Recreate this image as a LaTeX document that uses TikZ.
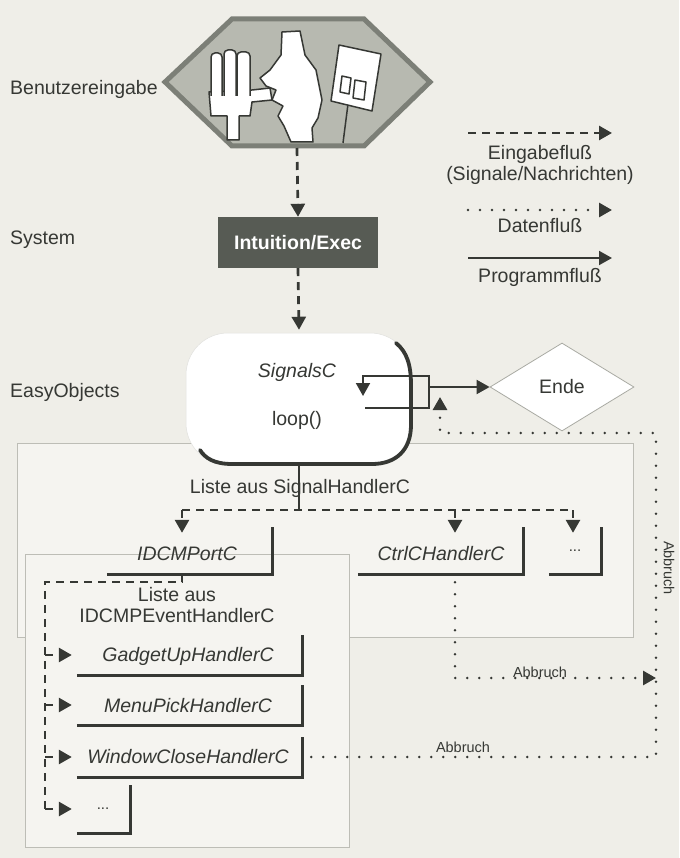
\documentclass[tikz,border=0pt]{standalone}
\usepackage{fontspec}
\setmainfont{Liberation Sans}
\usetikzlibrary{arrows.meta,shapes.geometric,calc}

\definecolor{paper}{HTML}{EFEEE8}
\definecolor{panelfill}{HTML}{F5F4F0}
\definecolor{panelline}{HTML}{BDBDB6}
\definecolor{ink}{HTML}{363834}
\definecolor{hexfill}{HTML}{B7B9B0}
\definecolor{hexedge}{HTML}{7C7F77}
\definecolor{sysfill}{HTML}{575B54}
\definecolor{thinline}{HTML}{A9AAA3}

\tikzset{
  txt/.style={text=ink, inner sep=0pt, font=\fontsize{19.5}{21}\selectfont},
  cls/.style={txt, font=\fontsize{19.5}{21}\selectfont\itshape},
  small/.style={txt, font=\fontsize{14.5}{16}\selectfont},
  dots/.style={txt, font=\fontsize{15}{16}\selectfont},
  tipA/.style={-{Triangle[length=13pt,width=14pt]}},
  inflow/.style={draw=ink, line width=2.7pt, dash pattern=on 8pt off 6pt},
  dataflow/.style={draw=ink, line width=2.8pt, line cap=round, dash pattern=on 0pt off 12pt},
  progflow/.style={draw=ink, line width=2pt},
  handlerbox/.style 2 args={minimum width=#1, minimum height=#2, inner sep=0pt},
  boxedge/.style={draw=ink, line width=2.8pt},
  panel/.style={draw=panelline, fill=panelfill, line width=1pt},
  icon/.style={draw=ink, line width=1.5pt, fill=white, line join=round},
}

\begin{document}
\begin{tikzpicture}[x=1pt,y=-1pt]
  % page
  \fill[paper] (0,0) rectangle (679,858);
  \useasboundingbox (0,0) rectangle (679,858);

  % panels for the handler lists
  \draw[panel] (17,443) rectangle (633,637);
  \draw[panel] (25,554) rectangle (349,847);

  % layer labels
  \node[txt, anchor=base west] (lUser) at (10,95) {Benutzereingabe};
  \node[txt, anchor=base west] (lSys) at (10,245) {System};
  \node[txt, anchor=base west] (lEO) at (10,397) {EasyObjects};

  % user input hexagon
  \draw[hexedge, fill=hexfill, line width=5pt, line join=miter]
    (165,82) -- (232,19) -- (364,19) -- (430,82) -- (364,146) -- (232,146) -- cycle;
  \coordinate (hexbot) at (297,148);

  % hand
  \draw[icon] (209,92) -- (252,90) -- (270,88) -- (272,100) -- (252,102) -- (250,116)
    -- (239,116) -- (239,140) -- (227,140) -- (227,116) -- (211,116) -- cycle;
  \filldraw[icon, rounded corners=4pt] (211,96) -- (211,53) -- (222,53) -- (222,96);
  \filldraw[icon, rounded corners=4pt] (224,96) -- (224,50) -- (236,50) -- (236,96);
  \filldraw[icon, rounded corners=4pt] (237,96) -- (237,52) -- (250,52) -- (250,96);
  % head in profile
  \draw[icon] (282,32) -- (300,31) -- (305,55) -- (316,70) -- (322,100) -- (318,118)
    -- (312,128) -- (313,142) -- (291,142) -- (284,126) -- (278,116) -- (283,106)
    -- (272,100) -- (276,90) -- (266,86) -- (260,78) -- (270,70) -- (281,55) -- cycle;
  % sign on a stick
  \draw[ink, line width=1.5pt] (348,104) -- (343,143);
  \draw[icon] (339,45) -- (381,54) -- (372,111) -- (331,101) -- cycle;
  \draw[icon] (342,76) -- (351,78) -- (349,94) -- (340,92) -- cycle;
  \draw[icon] (355,80) -- (366,82) -- (364,100) -- (353,98) -- cycle;

  % system box
  \node[fill=sysfill, minimum width=160pt, minimum height=51pt, inner sep=0pt,
        text=white, font=\fontsize{19.5}{21}\selectfont\bfseries] (intu) at (298,242.5) {Intuition/Exec};

  % SignalsC object
  \node[rounded corners=42pt, fill=white, draw=panelline!45, line width=0.5pt,
        minimum width=226pt, minimum height=132pt, inner sep=0pt] (sigbox) at (299,399) {};
  \draw[ink, line width=3.8pt, line cap=round]
    (396,343) .. controls (407,352) and (411,365) .. (411,385) -- (411,425)
    .. controls (411,450) and (396,464) .. (372,464) -- (232,464)
    .. controls (214,464) and (205,458) .. (200,450);
  \node[cls, anchor=base] (tSig) at (297,377) {SignalsC};
  \node[txt, anchor=base] (tLoop) at (297,425) {loop()};

  % end decision
  \node[diamond, aspect=1.64, minimum width=144pt, minimum height=88pt, inner sep=0pt,
        draw=thinline, line width=0.8pt, fill=white, txt] (ende) at (562,387) {Ende};

  % event loop
  \coordinate (loopIn) at (365,408);
  \coordinate (loopNE) at (429,376);
  \coordinate (loopBack) at (363,396);
  \draw[progflow, tipA] (loopIn) -- (loopIn -| loopNE) -- (loopNE) -- (loopNE -| loopBack) -- (loopBack);
  \draw[progflow, tipA] (loopNE |- ende.west) -- (ende.west);

  % input flow from the user down to the objects
  \draw[inflow, tipA] (hexbot) -- (intu.north);
  \draw[inflow, tipA] (intu.south) -- ($(sigbox.north)+(0,-3)$);

  % list of signal handlers
  \node[txt, anchor=base] (tList) at (300,493) {Liste aus SignalHandlerC};
  \coordinate (busL) at (182,510);
  \coordinate (busC) at (455,510);
  \coordinate (busR) at (573,510);
  \draw[ink, line width=1.1pt] (sigbox.south) -- (sigbox.south |- busL);
  \draw[inflow] (busL) -- (busR);

  \node[handlerbox={165pt}{47pt}] (bIdcmp) at (189.5,550.5) {};
  \node[handlerbox={165pt}{47pt}] (bCtrl) at (440.5,550.5) {};
  \node[handlerbox={52pt}{47pt}] (bMore) at (575,550.5) {};
  \node[cls, anchor=base] (tIdcmp) at (187,560) {IDCMPortC};
  \node[cls, anchor=base] (tCtrl) at (441,560) {CtrlCHandlerC};
  \node[dots, anchor=base] (tMore) at (575,551) {...};

  \draw[inflow, tipA] (busL) -- ($(busL |- bIdcmp.north)+(0,6)$);
  \draw[inflow, tipA] (busC) -- ($(busC |- bCtrl.north)+(0,6)$);
  \draw[inflow, tipA] (busR) -- ($(busR |- bMore.north)+(0,6)$);

  % list of IDCMP event handlers
  \node[txt, align=center] (tList2) at (177,605) {Liste aus\\IDCMPEventHandlerC};
  \node[handlerbox={225pt}{40pt}] (bGadget) at (189.5,655) {};
  \node[handlerbox={225pt}{40pt}] (bMenu) at (189.5,705) {};
  \node[handlerbox={225pt}{40pt}] (bWin) at (189.5,757) {};
  \node[handlerbox={53pt}{48pt}] (bMoreB) at (103.5,809) {};
  \node[cls, anchor=base] (tGadget) at (188,661) {GadgetUpHandlerC};
  \node[cls, anchor=base] (tMenu) at (188,712) {MenuPickHandlerC};
  \node[cls, anchor=base] (tWin) at (188,763) {WindowCloseHandlerC};
  \node[dots, anchor=base] (tMoreB) at (103,809) {...};

  \foreach \b in {bIdcmp,bCtrl,bMore,bGadget,bMenu,bWin,bMoreB}
    \draw[boxedge] (\b.south west) -- (\b.south east) -- (\b.north east);

  \coordinate (spineTop) at (45,582);
  \draw[inflow] (bIdcmp.south -| busL) -- (busL |- spineTop) -- (spineTop) -- (spineTop |- bMoreB.west);
  \foreach \b in {bGadget,bMenu,bWin,bMoreB}
    \draw[inflow, tipA] (spineTop |- \b.west) -- ([xshift=-5pt]\b.west);

  % abort paths back into the loop
  \coordinate (railTop) at (656,433);
  \coordinate (railMid) at (656,678);
  \coordinate (dataIn) at (440,397);
  \draw[dataflow, tipA] ([xshift=9pt]bWin.east) -- (bWin.east -| railTop) -- (railTop)
    -- (railTop -| dataIn) -- (dataIn);
  \draw[dataflow, tipA] ([yshift=-8pt]bCtrl.south -| busC) -- (busC |- railMid) -- (railMid);
  \node[small, anchor=base] (tAb1) at (540,677) {Abbruch};
  \node[small, anchor=base] (tAb2) at (463,752) {Abbruch};
  \node[small, rotate=-90] (tAb3) at (669,568) {Abbruch};

  % legend
  \coordinate (legA1) at (468,133); \coordinate (legA2) at (612,133);
  \coordinate (legB1) at (468,210); \coordinate (legB2) at (612,210);
  \coordinate (legC1) at (468,258); \coordinate (legC2) at (612,258);
  \draw[inflow, tipA] (legA1) -- (legA2);
  \draw[dataflow, tipA] (legB1) -- (legB2);
  \draw[progflow, tipA] (legC1) -- (legC2);
  \node[txt, align=center] (tLegA) at (540,165) {Eingabefluß\\(Signale/Nachrichten)};
  \node[txt, anchor=base] (tLegB) at (540,233) {Datenfluß};
  \node[txt, anchor=base] (tLegC) at (540,282) {Programmfluß};
\end{tikzpicture}
\end{document}
